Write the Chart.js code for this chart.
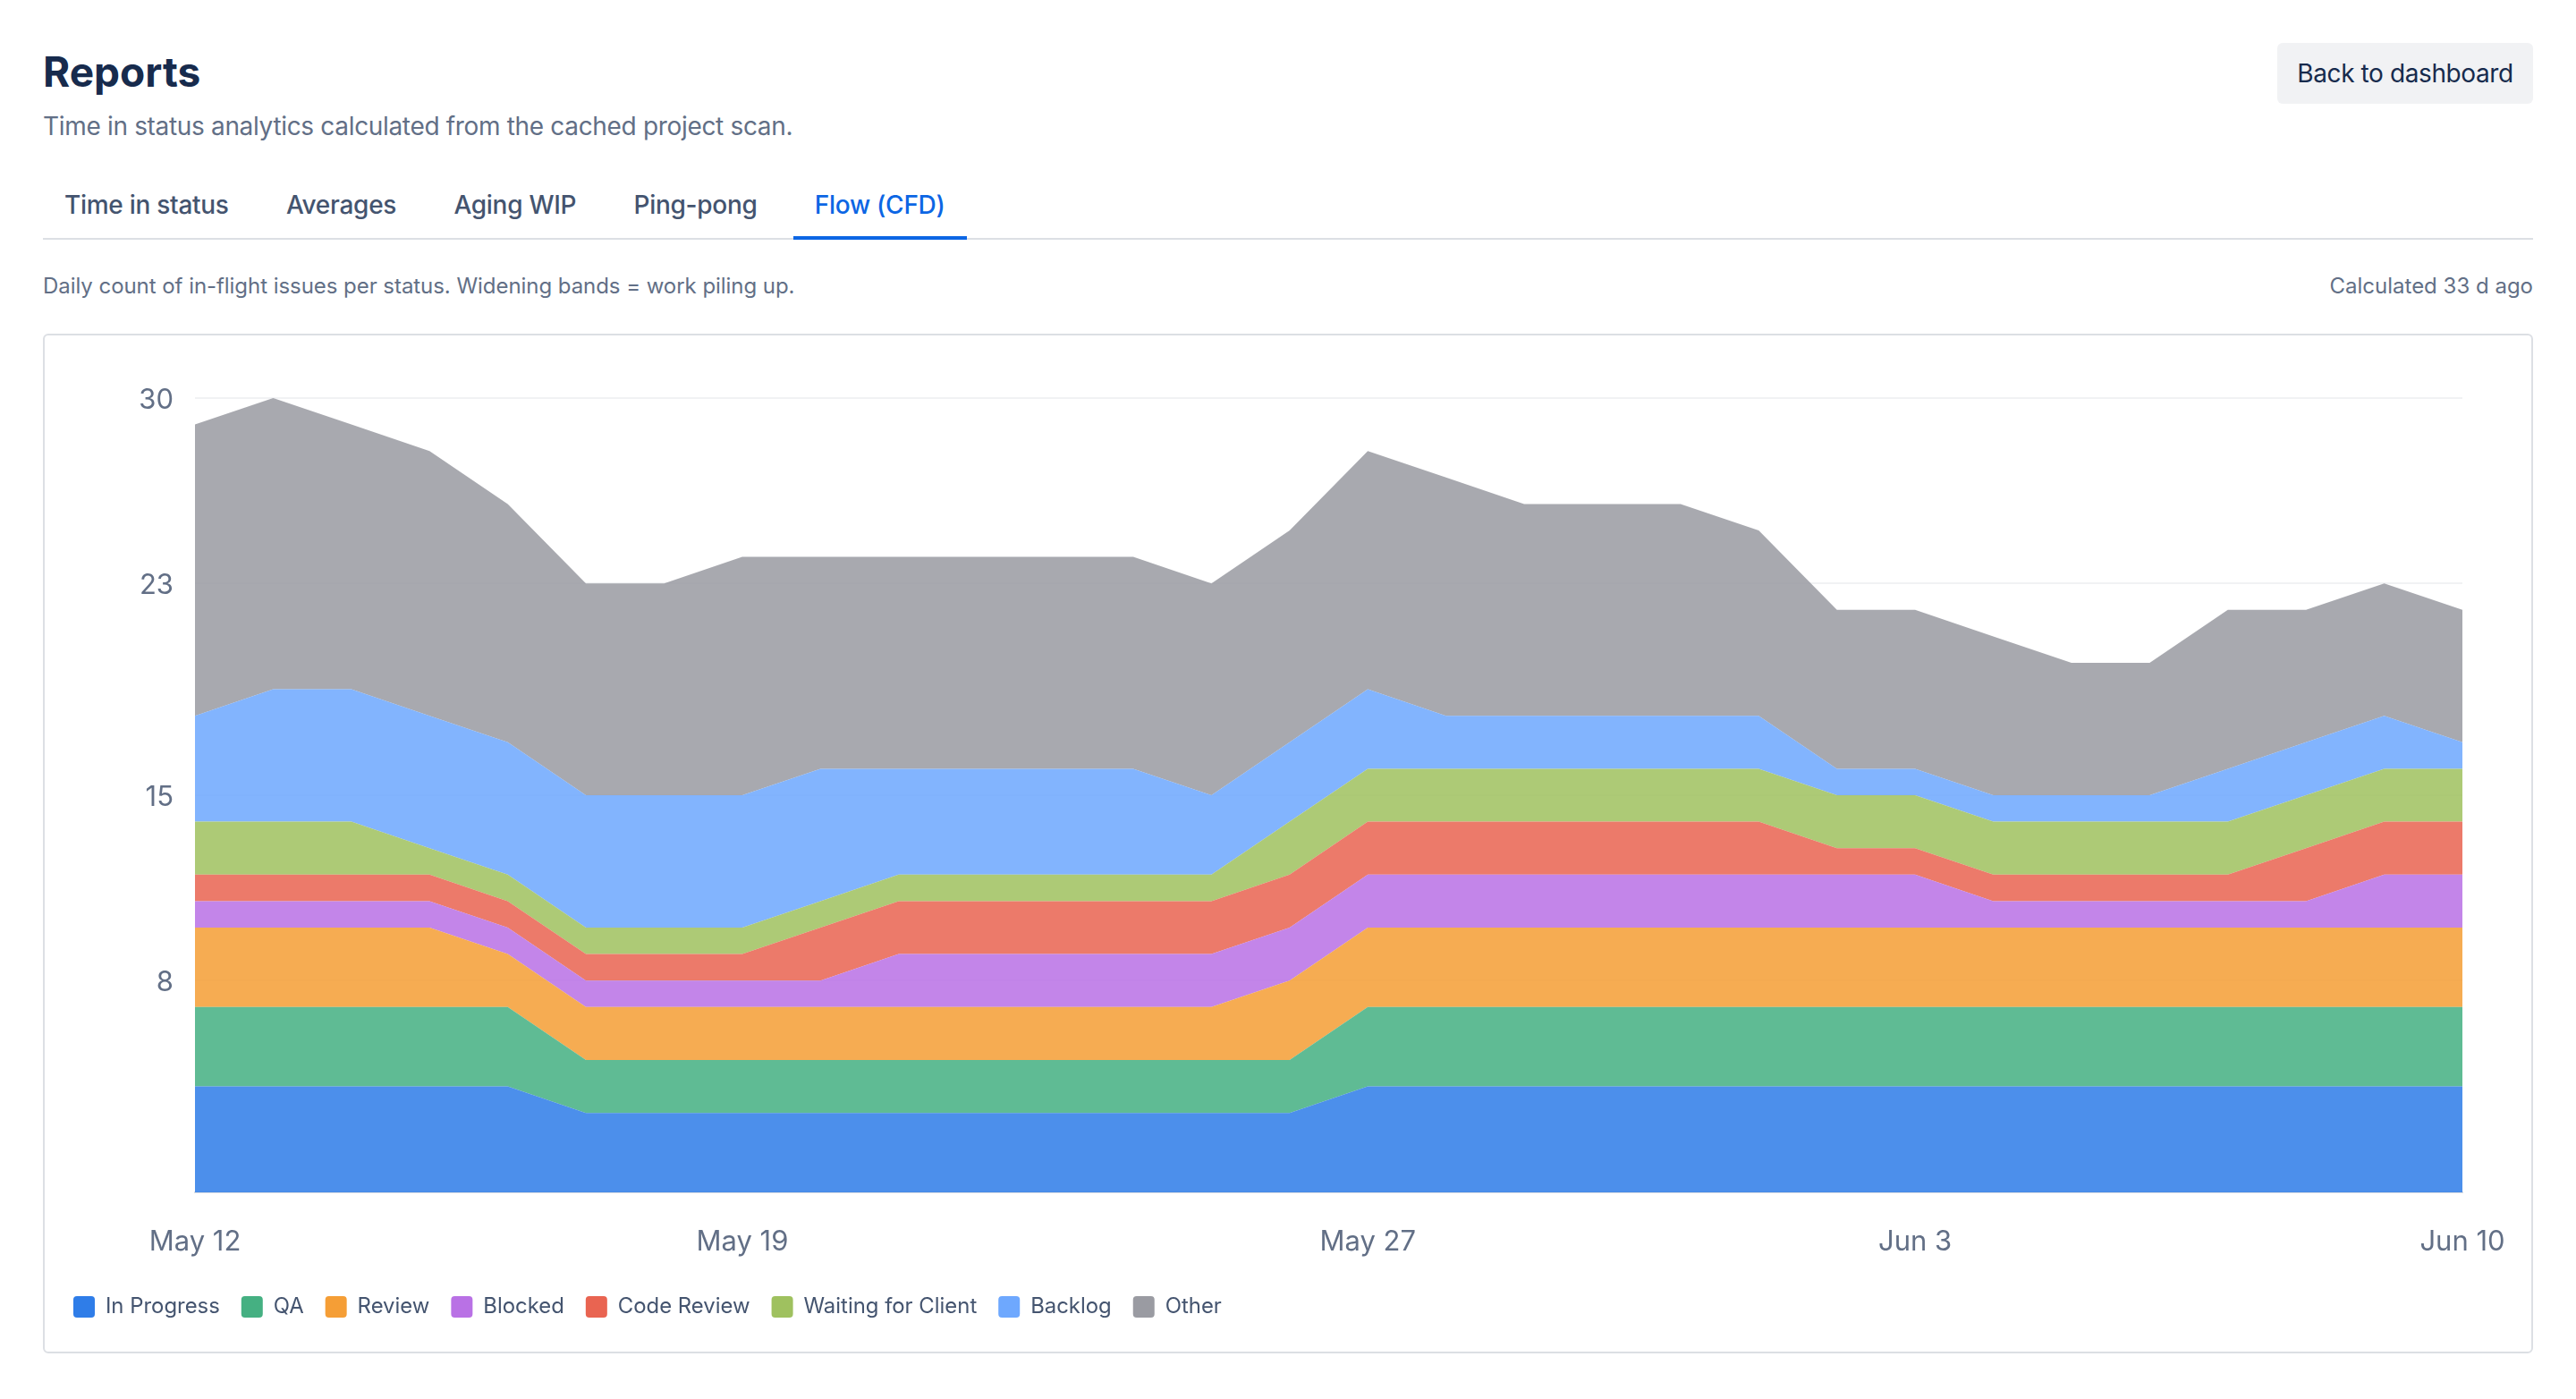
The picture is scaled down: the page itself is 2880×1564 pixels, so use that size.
<!DOCTYPE html>
<html>
<head>
<meta charset="utf-8">
<title>Reports</title>
<script src="https://cdn.jsdelivr.net/npm/chart.js@4"></script>
<style>
  html, body { margin: 0; padding: 0; background: #fff; }
  body { width: 2880px; height: 1564px; overflow: hidden; position: relative; font-family: Inter, sans-serif; }
  h1 { position: absolute; left: 48px; top: 52px; margin: 0; font-size: 46px; line-height: 56px; font-weight: 700; color: #172B4D; }
  .subtitle { position: absolute; left: 48px; top: 124px; font-size: 28px; line-height: 34px; color: #626F86; letter-spacing: -0.33px; }
  .back-btn { position: absolute; left: 2546px; top: 48px; width: 286px; height: 68px; line-height: 68px; text-align: center; background: #F1F2F4; border-radius: 6px; font-size: 28px; color: #172B4D; letter-spacing: -0.4px; }
  .tabs { position: absolute; left: 48px; top: 196px; width: 2784px; height: 72px; display: flex; gap: 16.25px; box-shadow: inset 0 -2px 0 #DCDFE4; }
  .tab { padding: 0 24px; height: 68px; line-height: 66px; font-size: 28px; font-weight: 500; color: #44546F; letter-spacing: -0.28px; }
  .tab.active { color: #0C66E4; box-shadow: inset 0 -4px 0 #0C66E4; height: 72px; }
  .desc { position: absolute; left: 48px; top: 305px; font-size: 24px; line-height: 30px; color: #626F86; letter-spacing: -0.05px; }
  .calc { position: absolute; right: 48px; top: 305px; font-size: 24px; line-height: 30px; color: #626F86; }
  .card { position: absolute; left: 48px; top: 373px; width: 2784px; height: 1140px; box-sizing: border-box; border: 2px solid #DCDFE4; border-radius: 6px; background: #fff; }
  .chart-wrap { position: absolute; left: 0; top: 0; width: 2780px; height: 1136px; }
</style>
</head>
<body>
  <h1>Reports</h1>
  <div class="subtitle">Time in status analytics calculated from the cached project scan.</div>
  <div class="back-btn">Back to dashboard</div>
  <div class="tabs">
    <div class="tab">Time in status</div>
    <div class="tab">Averages</div>
    <div class="tab">Aging WIP</div>
    <div class="tab">Ping-pong</div>
    <div class="tab active">Flow (CFD)</div>
  </div>
  <div class="desc">Daily count of in-flight issues per status. Widening bands = work piling up.</div>
  <div class="calc">Calculated 33 d ago</div>
  <div class="card"><div class="chart-wrap"><canvas id="cfd"></canvas></div></div>

<script>
  var DAYS = [
    "May 12", "May 13", "May 14", "May 15", "May 16", "May 17", "May 18", "May 19", "May 20", "May 21",
    "May 22", "May 23", "May 24", "May 25", "May 26", "May 27", "May 28", "May 29", "May 30", "May 31",
    "Jun 1", "Jun 2", "Jun 3", "Jun 4", "Jun 5", "Jun 6", "Jun 7", "Jun 8", "Jun 9", "Jun 10"
  ];
  var X_TICKS = ["May 12", "May 19", "May 27", "Jun 3", "Jun 10"];
  var Y_TICKS = [8, 15, 23, 30];

  var IN_PROGRESS = [4, 4, 4, 4, 4, 3, 3, 3, 3, 3, 3, 3, 3, 3, 3, 4, 4, 4, 4, 4, 4, 4, 4, 4, 4, 4, 4, 4, 4, 4];
  var QA = [3, 3, 3, 3, 3, 2, 2, 2, 2, 2, 2, 2, 2, 2, 2, 3, 3, 3, 3, 3, 3, 3, 3, 3, 3, 3, 3, 3, 3, 3];
  var REVIEW = [3, 3, 3, 3, 2, 2, 2, 2, 2, 2, 2, 2, 2, 2, 3, 3, 3, 3, 3, 3, 3, 3, 3, 3, 3, 3, 3, 3, 3, 3];
  var BLOCKED = [1, 1, 1, 1, 1, 1, 1, 1, 1, 2, 2, 2, 2, 2, 2, 2, 2, 2, 2, 2, 2, 2, 2, 1, 1, 1, 1, 1, 2, 2];
  var CODE_REVIEW = [1, 1, 1, 1, 1, 1, 1, 1, 2, 2, 2, 2, 2, 2, 2, 2, 2, 2, 2, 2, 2, 1, 1, 1, 1, 1, 1, 2, 2, 2];
  var WAITING = [2, 2, 2, 1, 1, 1, 1, 1, 1, 1, 1, 1, 1, 1, 2, 2, 2, 2, 2, 2, 2, 2, 2, 2, 2, 2, 2, 2, 2, 2];
  var BACKLOG = [4, 5, 5, 5, 5, 5, 5, 5, 5, 4, 4, 4, 4, 3, 3, 3, 2, 2, 2, 2, 2, 1, 1, 1, 1, 1, 2, 2, 2, 1];
  var OTHER = [11, 11, 10, 10, 9, 8, 8, 9, 8, 8, 8, 8, 8, 8, 8, 9, 9, 8, 8, 8, 7, 6, 6, 6, 5, 5, 6, 5, 5, 5];

  var SERIES = [
    { label: "In Progress", data: IN_PROGRESS, color: "#2F7DE8" },
    { label: "QA", data: QA, color: "#45B082" },
    { label: "Review", data: REVIEW, color: "#F59E36" },
    { label: "Blocked", data: BLOCKED, color: "#B971E5" },
    { label: "Code Review", data: CODE_REVIEW, color: "#E96451" },
    { label: "Waiting for Client", data: WAITING, color: "#9FC15F" },
    { label: "Backlog", data: BACKLOG, color: "#6EA8FE" },
    { label: "Other", data: OTHER, color: "#9A9BA2" }
  ];

  function withAlpha(hex, a) {
    var r = parseInt(hex.slice(1, 3), 16);
    var g = parseInt(hex.slice(3, 5), 16);
    var b = parseInt(hex.slice(5, 7), 16);
    return "rgba(" + r + "," + g + "," + b + "," + a + ")";
  }

  var datasets = SERIES.map(function (s, i) {
    var soft = withAlpha(s.color, 0.86);
    return {
      label: s.label,
      data: s.data,
      backgroundColor: s.color,
      borderWidth: 0,
      pointRadius: 0,
      tension: 0,
      fill: { target: i === 0 ? "origin" : "-1", above: soft, below: soft }
    };
  });

  new Chart(document.getElementById("cfd"), {
    type: "line",
    data: { labels: DAYS, datasets: datasets },
    options: {
      responsive: true,
      maintainAspectRatio: false,
      animation: false,
      devicePixelRatio: 1,
      layout: { padding: { left: 8, right: 77, top: 70, bottom: 28 } },
      plugins: {
        tooltip: { enabled: false },
        legend: {
          position: "bottom",
          align: "start",
          labels: {
            boxWidth: 24,
            boxHeight: 24,
            padding: 24,
            useBorderRadius: true,
            borderRadius: 4,
            color: "#44546F",
            font: { family: "Inter", size: 23.9 }
          }
        }
      },
      scales: {
        x: {
          grid: { display: false, drawTicks: false },
          border: { display: true, color: "#DCDFE4", width: 2 },
          afterFit: function (scale) {
            scale.height = 92;
            // keep the big tick padding from eating into the plot width
            scale.paddingLeft = 0;
            scale.paddingRight = 0;
          },
          ticks: {
            autoSkip: false,
            maxRotation: 0,
            padding: 37,
            color: "#626F86",
            font: { family: "Inter", size: 31 },
            callback: function (value) {
              var name = this.getLabelForValue(value);
              return X_TICKS.indexOf(name) >= 0 ? name : null;
            }
          }
        },
        y: {
          stacked: true,
          min: 0,
          max: 30,
          afterBuildTicks: function (scale) {
            scale.ticks = Y_TICKS.map(function (v) { return { value: v }; });
          },
          afterFit: function (scale) { scale.width = 160; },
          grid: { color: "#F1F2F4", lineWidth: 2, drawTicks: false },
          border: { display: false },
          ticks: {
            padding: 24,
            labelOffset: 2.5,
            color: "#626F86",
            font: { family: "Inter", size: 31 }
          }
        }
      }
    }
  });
</script>
</body>
</html>
